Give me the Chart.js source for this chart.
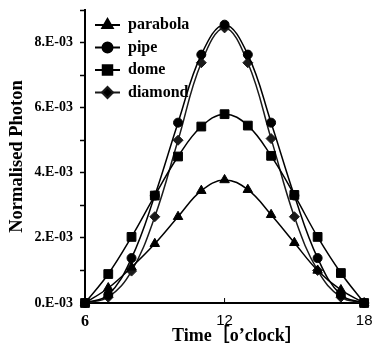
<!DOCTYPE html>
<html>
<head>
<meta charset="utf-8">
<script src="https://cdn.jsdelivr.net/npm/chart.js@4.4.1/dist/chart.umd.min.js"></script>
<style>
html, body { margin: 0; padding: 0; background: #fff; }
</style>
</head>
<body>
<canvas id="chart" width="376" height="346"></canvas>
<script>
// hourly values
var hours = [6, 7, 8, 9, 10, 11, 12, 13, 14, 15, 16, 17, 18];
var parabola = [0, 0.46e-3, 1.1e-3, 1.82e-3, 2.65e-3, 3.45e-3, 3.78e-3, 3.48e-3, 2.71e-3, 1.85e-3, 1.0e-3, 0.4e-3, 0];
var pipe = [0, 0.25e-3, 1.38e-3, 3.3e-3, 5.54e-3, 7.63e-3, 8.55e-3, 7.63e-3, 5.54e-3, 3.3e-3, 1.38e-3, 0.25e-3, 0];
var dome = [0, 0.89e-3, 2.03e-3, 3.3e-3, 4.5e-3, 5.42e-3, 5.8e-3, 5.45e-3, 4.52e-3, 3.32e-3, 2.03e-3, 0.92e-3, 0];
var diamond = [0, 0.18e-3, 0.98e-3, 2.65e-3, 5.0e-3, 7.38e-3, 8.45e-3, 7.38e-3, 5.05e-3, 2.65e-3, 1.0e-3, 0.18e-3, 0];
var seriesNames = ['parabola', 'pipe', 'dome', 'diamond'];
var yTickLabels = ['0.E-03', '2.E-03', '4.E-03', '6.E-03', '8.E-03'];
var xTickLabels = ['6', '12', '18'];
var xTitle = 'Time［o’clock］';

var serif = '"Liberation Serif", "Times New Roman", serif';

function toPoints(vals) {
    return hours.map(function (h, i) { return { x: h, y: vals[i] }; });
}

function makeSet(name, vals, style, radius, color) {
    return {
        label: name,
        data: toPoints(vals),
        borderColor: color,
        backgroundColor: color,
        borderWidth: 1.5,
        pointStyle: style,
        pointRadius: radius,
        pointBorderWidth: 1,
        tension: 0.4,
        clip: false
    };
}

// legend drawn inside the plot, line through marker like the original
var innerLegend = {
    id: 'innerLegend',
    afterDraw: function (chart) {
        var ctx = chart.ctx;
        var area = chart.chartArea;
        ctx.save();
        // small inside tick at 12 on the x axis
        var xs = chart.scales.x;
        var px = xs.getPixelForValue(12);
        ctx.strokeStyle = '#000';
        ctx.lineWidth = 1;
        ctx.beginPath();
        ctx.moveTo(px, area.bottom);
        ctx.lineTo(px, area.bottom - 5);
        ctx.stroke();

        // x axis title
        ctx.fillStyle = '#000';
        ctx.font = 'bold 18px ' + serif + ', "Noto Sans CJK JP"';
        ctx.textAlign = 'left';
        ctx.textBaseline = 'alphabetic';
        ctx.fillText(xTitle, 172, 341);

        chart.data.datasets.forEach(function (ds, i) {
            var y = 25 + i * 22.5;
            ctx.strokeStyle = ds.borderColor;
            ctx.lineWidth = 2;
            ctx.beginPath();
            ctx.moveTo(95, y);
            ctx.lineTo(120, y);
            ctx.stroke();
            Chart.helpers.drawPoint(ctx, {
                pointStyle: ds.pointStyle,
                radius: ds.pointRadius + 0.5,
                rotation: 0,
                borderWidth: 1
            }, 107.5, y);
            ctx.fillStyle = '#000';
            ctx.font = 'bold 16px ' + serif;
            ctx.textAlign = 'left';
            ctx.textBaseline = 'middle';
            ctx.fillText(ds.label, 128, y);
        });
        ctx.restore();
    }
};

var ctx = document.getElementById('chart');
var chart = new Chart(ctx, {
    type: 'line',
    data: {
        datasets: [
            makeSet(seriesNames[0], parabola, 'triangle', 5.5, '#000'),
            makeSet(seriesNames[1], pipe, 'circle', 4.5, '#000'),
            makeSet(seriesNames[2], dome, 'rect', 6.2, '#000'),
            makeSet(seriesNames[3], diamond, 'rectRot', 5, '#1a1a1a')
        ]
    },
    options: {
        responsive: false,
        animation: false,
        devicePixelRatio: 1,
        layout: { padding: { top: 10, right: 4, left: 0, bottom: 0 } },
        plugins: {
            legend: { display: false },
            tooltip: { enabled: false }
        },
        scales: {
            x: {
                type: 'linear',
                min: 6,
                max: 18.2,
                afterFit: function (scale) {
                    scale.height = 43;
                    scale.paddingLeft = 0;
                    scale.paddingRight = 0;
                },
                afterBuildTicks: function (scale) {
                    scale.ticks = xTickLabels.map(function (t) { return { value: Number(t) }; });
                },
                grid: { display: false, drawTicks: false },
                border: { display: true, color: '#000', width: 2 },
                ticks: {
                    color: '#000',
                    padding: 9,
                    maxRotation: 0,
                    autoSkip: false,
                    callback: function (v) { return String(v); },
                    font: function (c) {
                        if (c.tick && c.tick.value === 6) {
                            return { family: serif, size: 16, weight: 'bold' };
                        }
                        return { family: '"Liberation Sans", Arial, sans-serif', size: 15 };
                    }
                },
                title: { display: false }
            },
            y: {
                min: 0,
                max: 9e-3,
                afterFit: function (scale) {
                    scale.width = 85;
                    scale.paddingTop = 0;
                    scale.paddingBottom = 0;
                },
                grid: {
                    drawOnChartArea: false,
                    drawTicks: true,
                    tickLength: 5,
                    tickColor: '#000',
                    tickWidth: 1.5
                },
                border: { display: true, color: '#000', width: 2 },
                ticks: {
                    stepSize: 1e-3,
                    color: '#000',
                    padding: 7,
                    font: { family: serif, size: 14, weight: 'bold' },
                    callback: function (v) {
                        var k = Math.round(v * 1000);
                        return (k % 2 === 0 && k / 2 < yTickLabels.length) ? yTickLabels[k / 2] : '';
                    }
                },
                title: {
                    display: true,
                    text: 'Normalised Photon',
                    color: '#000',
                    font: { family: serif, size: 18.5, weight: 'bold' },
                    padding: { top: 6, bottom: 0 }
                }
            }
        }
    },
    plugins: [innerLegend]
});
</script>
</body>
</html>
